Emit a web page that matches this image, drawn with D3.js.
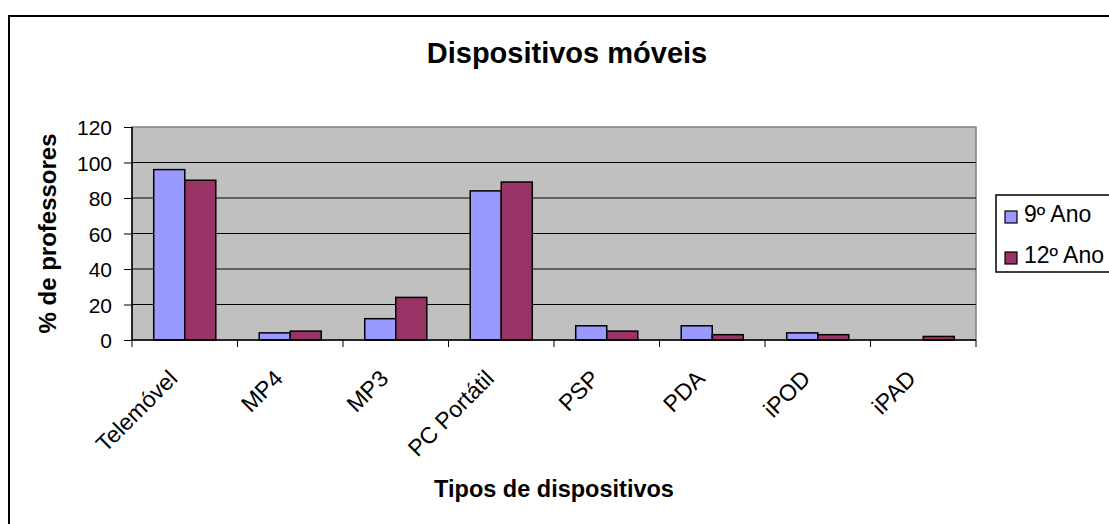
<!DOCTYPE html>
<html>
<head>
<meta charset="utf-8">
<script src="https://cdn.jsdelivr.net/npm/d3@7/dist/d3.min.js"></script>
<style>
    body { margin: 0; background: #fff; }
    svg { display: block; font-family: Arial, "Liberation Sans", sans-serif; }
</style>
</head>
<body>
<div id="chart"></div>
<script>
// data
const categories = ['Telemóvel', 'MP4', 'MP3', 'PC Portátil', 'PSP', 'PDA', 'iPOD', 'iPAD'];
const seriesNames = ['9º Ano', '12º Ano'];
const ano9 = [96, 4, 12, 84, 8, 8, 4, 0];
const ano12 = [90, 5, 24, 89, 5, 3, 3, 2];
const yTicks = [0, 20, 40, 60, 80, 100, 120];
const colors = ['#9999FF', '#993366'];

const width = 1109;
const height = 524;
const plot = { left: 132, top: 127, right: 976, bottom: 340 };

const svg = d3.select('#chart')
    .append('svg')
    .attr('width', width)
    .attr('height', height);

// outer chart frame (runs off the right and bottom edges)
svg.append('rect')
    .attr('x', 9)
    .attr('y', 16)
    .attr('width', 1130)
    .attr('height', 540)
    .style('fill', 'none')
    .style('stroke', '#000')
    .style('stroke-width', 2);

let x0 = d3.scaleBand()
    .domain(categories)
    .range([plot.left, plot.right])
    .paddingInner(0)
    .paddingOuter(0);

let x1 = d3.scaleBand()
    .domain(seriesNames)
    .range([0, x0.bandwidth()])
    .paddingInner(0)
    .paddingOuter(0.7);

let y = d3.scaleLinear()
    .domain([0, 120])
    .range([plot.bottom, plot.top]);

// plot background
svg.append('rect')
    .attr('x', plot.left)
    .attr('y', plot.top)
    .attr('width', plot.right - plot.left)
    .attr('height', plot.bottom - plot.top)
    .style('fill', '#C0C0C0')
    .style('stroke', '#808080')
    .style('stroke-width', 1.5);

// gridlines
svg.append('g')
    .selectAll('line')
    .data(yTicks.filter(d => d > 0 && d < 120))
    .enter().append('line')
    .attr('x1', plot.left)
    .attr('x2', plot.right)
    .attr('y1', d => y(d))
    .attr('y2', d => y(d))
    .style('stroke', '#000')
    .style('stroke-width', 1.2);

// bars
let rows = [ano9, ano12];
let groups = svg.append('g')
    .selectAll('g')
    .data(categories)
    .enter().append('g')
    .attr('transform', d => `translate(${x0(d)},0)`);

groups.selectAll('rect')
    .data((d, i) => seriesNames.map((s, k) => ({ series: s, value: rows[k][i], k: k })))
    .enter().append('rect')
    .filter(d => d.value > 0)
    .attr('x', d => x1(d.series))
    .attr('y', d => y(d.value))
    .attr('width', x1.bandwidth())
    .attr('height', d => y(0) - y(d.value))
    .style('fill', d => colors[d.k])
    .style('stroke', '#000')
    .style('stroke-width', 1.5);

// y axis
let yAxis = svg.append('g')
    .attr('transform', `translate(${plot.left},0)`)
    .call(d3.axisLeft(y).tickValues(yTicks).tickSize(8).tickPadding(12).tickFormat(d3.format('d')));
yAxis.select('.domain').style('stroke', '#000').style('stroke-width', 1.5).attr('d', `M0,${plot.top}V${plot.bottom}`);
yAxis.selectAll('.tick line').style('stroke', '#000');
yAxis.selectAll('.tick text')
    .style('font-size', '21px')
    .style('fill', '#000')
    .attr('dy', '0.36em');

// x axis
let xAxis = svg.append('g')
    .attr('transform', `translate(0,${plot.bottom})`)
    .call(d3.axisBottom(x0).tickSize(0).tickFormat(''));
xAxis.select('.domain').style('stroke', '#000').style('stroke-width', 1.5).attr('d', `M${plot.left},0H${plot.right}`);
xAxis.selectAll('.tick').remove();

// category boundary ticks
svg.append('g')
    .selectAll('line')
    .data(categories.concat(['end']))
    .enter().append('line')
    .attr('x1', (d, i) => i < categories.length ? x0(d) : plot.right)
    .attr('x2', (d, i) => i < categories.length ? x0(d) : plot.right)
    .attr('y1', plot.bottom)
    .attr('y2', plot.bottom + 7)
    .style('stroke', '#000')
    .style('stroke-width', 1);

// rotated category labels
svg.append('g')
    .selectAll('text')
    .data(categories)
    .enter().append('text')
    .attr('transform', d => `translate(${x0(d) + x0.bandwidth() / 2 - 6},${plot.bottom + 40}) rotate(-45)`)
    .attr('text-anchor', 'end')
    .style('font-size', '23px')
    .style('fill', '#000')
    .text(d => d);

// titles
svg.append('text')
    .attr('x', 567)
    .attr('y', 63)
    .attr('text-anchor', 'middle')
    .style('font-size', '29px')
    .style('font-weight', 'bold')
    .text('Dispositivos móveis');

svg.append('text')
    .attr('x', (plot.left + plot.right) / 2)
    .attr('y', 497)
    .attr('text-anchor', 'middle')
    .style('font-size', '23.5px')
    .style('font-weight', 'bold')
    .text('Tipos de dispositivos');

svg.append('text')
    .attr('transform', `translate(56,${(plot.top + plot.bottom) / 2}) rotate(-90)`)
    .attr('text-anchor', 'middle')
    .style('font-size', '24px')
    .style('font-weight', 'bold')
    .text('% de professores');

// legend
let legend = svg.append('g');
legend.append('rect')
    .attr('x', 996)
    .attr('y', 195)
    .attr('width', 140)
    .attr('height', 77)
    .style('fill', '#fff')
    .style('stroke', '#000')
    .style('stroke-width', 1.5);

let items = legend.selectAll('g')
    .data(seriesNames)
    .enter().append('g')
    .attr('transform', (d, i) => `translate(1005,${211 + i * 41})`);
items.append('rect')
    .attr('width', 12)
    .attr('height', 12)
    .style('fill', (d, i) => colors[i])
    .style('stroke', '#000')
    .style('stroke-width', 1.2);
items.append('text')
    .attr('x', 19)
    .attr('y', 11)
    .style('font-size', '23px')
    .text(d => d);
</script>
</body>
</html>
